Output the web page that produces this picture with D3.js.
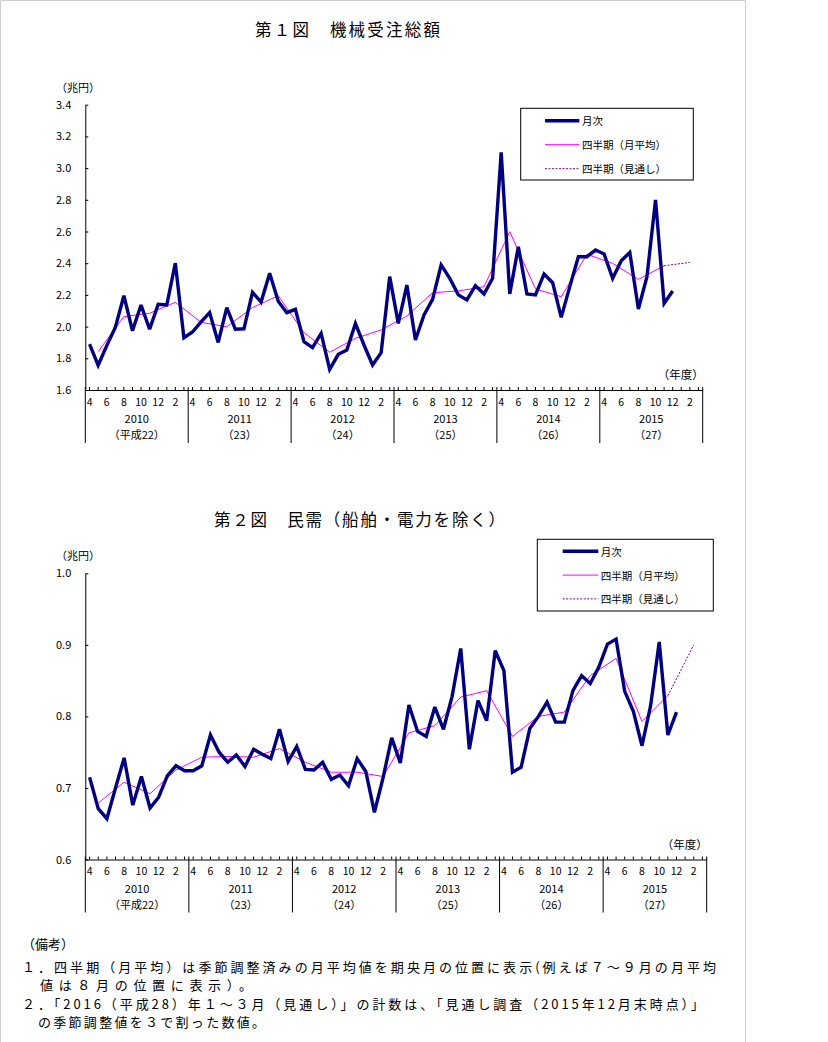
<!DOCTYPE html>
<html><head><meta charset="utf-8">
<script src="https://cdn.jsdelivr.net/npm/d3@7/dist/d3.min.js"></script>
<style>
html,body{margin:0;padding:0;background:#fff;}
svg{display:block;}
text{font-family:"Noto Sans CJK JP","Noto Sans",sans-serif;fill:#000;}
</style></head>
<body>
<script>
// ---------- data ----------
const fiscalYears = ["2010","2011","2012","2013","2014","2015"];
const eraLabels = ["（平成22）","（23）","（24）","（25）","（26）","（27）"];
const monthsOfYear = [4,5,6,7,8,9,10,11,12,1,2,3];
const legendLabels = ["月次","四半期（月平均）","四半期（見通し）"];

// Chart 1: 機械受注総額 (兆円), monthly Apr 2010 - Dec 2015
const monthly1 = [1.89,1.756,1.88,1.995,2.195,1.974,2.136,1.983,2.14,2.136,2.40,1.93,
  1.966,2.03,2.088,1.90,2.12,1.983,1.986,2.216,2.155,2.336,2.16,2.088,
  2.109,1.905,1.867,1.957,1.73,1.825,1.852,2.02,1.884,1.758,1.835,2.315,
  2.02,2.262,1.915,2.073,2.172,2.389,2.305,2.20,2.168,2.258,2.206,2.305,
  3.10,2.206,2.504,2.206,2.20,2.332,2.277,2.058,2.252,2.441,2.441,2.483,
  2.458,2.305,2.416,2.468,2.111,2.315,2.799,2.147,2.225];
// quarterly (monthly average), plotted at the middle month of each quarter
const quarter1 = [1.842,2.063,2.084,2.153,2.027,1.999,2.12,2.195,1.962,1.838,1.926,1.979,
  2.067,2.214,2.225,2.252,2.599,2.237,2.189,2.456,2.399,2.298,2.384];
const forecastIdx = [67,70];
const forecast1 = [2.384,2.405];
const yTicks1 = [1.6,1.8,2.0,2.2,2.4,2.6,2.8,3.0,3.2,3.4];

// Chart 2: 民需（船舶・電力を除く）
const monthly2 = [0.715,0.671,0.657,0.700,0.742,0.676,0.716,0.672,0.687,0.717,0.731,0.724,
  0.724,0.731,0.774,0.750,0.736,0.746,0.730,0.754,0.747,0.741,0.782,0.737,
  0.758,0.726,0.725,0.736,0.712,0.718,0.703,0.741,0.723,0.666,0.714,0.770,
  0.735,0.816,0.779,0.772,0.813,0.782,0.828,0.895,0.754,0.822,0.794,0.892,
  0.864,0.722,0.729,0.783,0.800,0.820,0.792,0.792,0.836,0.857,0.846,0.869,
  0.901,0.908,0.835,0.807,0.759,0.815,0.904,0.774,0.806];
const quarter2 = [0.679,0.708,0.692,0.725,0.743,0.744,0.743,0.755,0.736,0.722,0.722,0.716,
  0.777,0.787,0.827,0.836,0.772,0.800,0.806,0.857,0.881,0.793,0.829];
const forecast2 = [0.829,0.900];
const yTicks2 = [0.6,0.7,0.8,0.9,1.0];

const notes = [
  "（備考）",
  "１．四半期（月平均）は季節調整済みの月平均値を期央月の位置に表示(例えば７～９月の月平均",
  "値は８月の位置に表示）。",
  "２．「2016（平成28）年１～３月（見通し）」の計数は、「見通し調査（2015年12月末時点）」",
  "の季節調整値を３で割った数値。"
];

// ---------- drawing ----------
const W = 828, H = 1042;
const svg = d3.select("body").append("svg").attr("width", W).attr("height", H);

// page frame
svg.append("path").attr("d","M0.5,1042 V0.5 H745.5 V1042").attr("fill","none").attr("stroke","#cfcfcf");

const N = fiscalYears.length * 12;
const qIdx = d3.range(quarter1.length).map(k => 1 + 3*k);

function drawChart(cfg) {
  const g = svg.append("g");
  const x = d3.scaleBand().domain(d3.range(N)).range([cfg.x0, cfg.x1]).paddingInner(0).paddingOuter(0);
  const cx = i => x(i) + x.bandwidth()/2;
  const y = d3.scaleLinear().domain(cfg.yDomain).range([cfg.yBase, cfg.yTop]);

  // title
  g.append("text").attr("x", cfg.titleX).attr("y", cfg.titleY)
    .attr("font-size", 16.5).attr("textLength", cfg.titleLen).attr("lengthAdjust","spacing")
    .attr("dominant-baseline","central").text(cfg.title);

  // y axis
  const ya = d3.axisLeft(y).tickValues(cfg.yTicks).tickFormat(d3.format(".1f"))
    .tickSizeInner(-3).tickSizeOuter(0).tickPadding(14);
  const yg = g.append("g").attr("transform", `translate(${cfg.x0},0)`).call(ya);
  yg.select(".domain").attr("stroke","#000");
  yg.selectAll(".tick line").attr("stroke","#000");
  yg.selectAll("text").attr("font-size", 11).attr("font-family","\"Noto Sans CJK JP\",sans-serif").attr("fill","#000");

  // unit labels
  g.append("text").attr("x", 56).attr("y", cfg.yTop - 18).attr("font-size", 11)
    .attr("dominant-baseline","central").text("（兆円）");
  g.append("text").attr("x", cfg.x1 + 1).attr("y", cfg.yBase - 16).attr("font-size", 11.5)
    .attr("text-anchor","end").attr("dominant-baseline","central").text("（年度）");

  // x axis (months)
  const xa = d3.axisBottom(x).tickSizeInner(-3).tickSizeOuter(0)
    .tickFormat(i => (i % 2 === 0) ? String(monthsOfYear[i % 12]) : "");
  const xg = g.append("g").attr("transform", `translate(0,${cfg.yBase})`).call(xa);
  xg.select(".domain").attr("stroke","#000");
  xg.selectAll(".tick line").attr("stroke","#000");
  xg.selectAll("text").attr("font-size", 10.5).attr("y", 11).attr("dy", null)
    .attr("dominant-baseline","central").attr("font-family","\"Noto Sans CJK JP\",sans-serif").attr("fill","#000");

  // year separators and year labels
  const yearW = (cfg.x1 - cfg.x0) / fiscalYears.length;
  d3.range(fiscalYears.length + 1).forEach(k => {
    const xx = cfg.x0 + k*yearW;
    g.append("line").attr("x1", xx).attr("x2", xx).attr("y1", cfg.yBase - 3).attr("y2", cfg.yBase + 53)
      .attr("stroke","#000");
  });
  fiscalYears.forEach((fy, k) => {
    const mx = cfg.x0 + (k + 0.5)*yearW;
    g.append("text").attr("x", mx).attr("y", cfg.yBase + 28).attr("font-size", 11)
      .attr("text-anchor","middle").attr("dominant-baseline","central").text(fy);
    g.append("text").attr("x", mx).attr("y", cfg.yBase + 44).attr("font-size", 11)
      .attr("text-anchor","middle").attr("dominant-baseline","central").text(eraLabels[k]);
  });

  // lines
  const line = d3.line().x(d => cx(d[0])).y(d => y(d[1]));
  g.append("path").datum(cfg.quarter.map((v,k) => [qIdx[k], v]))
    .attr("d", line).attr("fill","none").attr("stroke","#ff00ff").attr("stroke-width",1);
  g.append("path").datum(cfg.forecast.map((v,k) => [forecastIdx[k], v]))
    .attr("d", line).attr("fill","none").attr("stroke","#800080").attr("stroke-width",1)
    .attr("stroke-dasharray","2,1.5");
  g.append("path").datum(cfg.monthly.map((v,i) => [i, v]))
    .attr("d", line).attr("fill","none").attr("stroke","#000080").attr("stroke-width",3.4)
    .attr("stroke-linejoin","miter").attr("stroke-miterlimit",3);

  // legend
  const L = cfg.legend;
  g.append("rect").attr("x", L.x).attr("y", L.y).attr("width", L.w).attr("height", L.h)
    .attr("fill","#fff").attr("stroke","#000").attr("stroke-width",1);
  const styles = [
    {stroke:"#000080", w:3.4, dash:null},
    {stroke:"#ff00ff", w:1, dash:null},
    {stroke:"#800080", w:1, dash:"2,1.5"}
  ];
  legendLabels.forEach((lab, k) => {
    const ly = L.y + L.row0 + k*L.step;
    g.append("line").attr("x1", L.lx0).attr("x2", L.lx1).attr("y1", ly).attr("y2", ly)
      .attr("stroke", styles[k].stroke).attr("stroke-width", styles[k].w)
      .attr("stroke-dasharray", styles[k].dash);
    g.append("text").attr("x", L.tx).attr("y", ly).attr("font-size", 10.5)
      .attr("dominant-baseline","central").text(lab);
  });
}

drawChart({
  title: "第１図　機械受注総額", titleX: 255, titleY: 29, titleLen: 185,
  x0: 85.3, x1: 702.7, yBase: 390, yTop: 104.7, yDomain: [1.6, 3.4], yTicks: yTicks1,
  monthly: monthly1, quarter: quarter1, forecast: forecast1,
  legend: {x: 520.7, y: 108.3, w: 172.6, h: 71.7, row0: 12.4, step: 24, lx0: 545, lx1: 579.3, tx: 582}
});

drawChart({
  title: "第２図　民需（船舶・電力を除く）", titleX: 214, titleY: 519, titleLen: 291,
  x0: 85.3, x1: 706.7, yBase: 859.5, yTop: 573.3, yDomain: [0.6, 1.0], yTicks: yTicks2,
  monthly: monthly2, quarter: quarter2, forecast: forecast2,
  legend: {x: 537.3, y: 539.3, w: 176, h: 71.7, row0: 12, step: 23.8, lx0: 562.7, lx1: 598.3, tx: 600.7}
});

// notes
const noteSpec = [
  {x: 22, y: 943, len: null},
  {x: 22, y: 966, len: 694},
  {x: 40, y: 984, len: 212},
  {x: 22, y: 1003, len: 682},
  {x: 38, y: 1021, len: 227}
];
notes.forEach((t, k) => {
  const s = noteSpec[k];
  const tx = svg.append("text").attr("x", s.x).attr("y", s.y).attr("font-size", 13)
    .attr("dominant-baseline","central").text(t);
  if (s.len) tx.attr("textLength", s.len).attr("lengthAdjust","spacing");
});
</script>
</body></html>
